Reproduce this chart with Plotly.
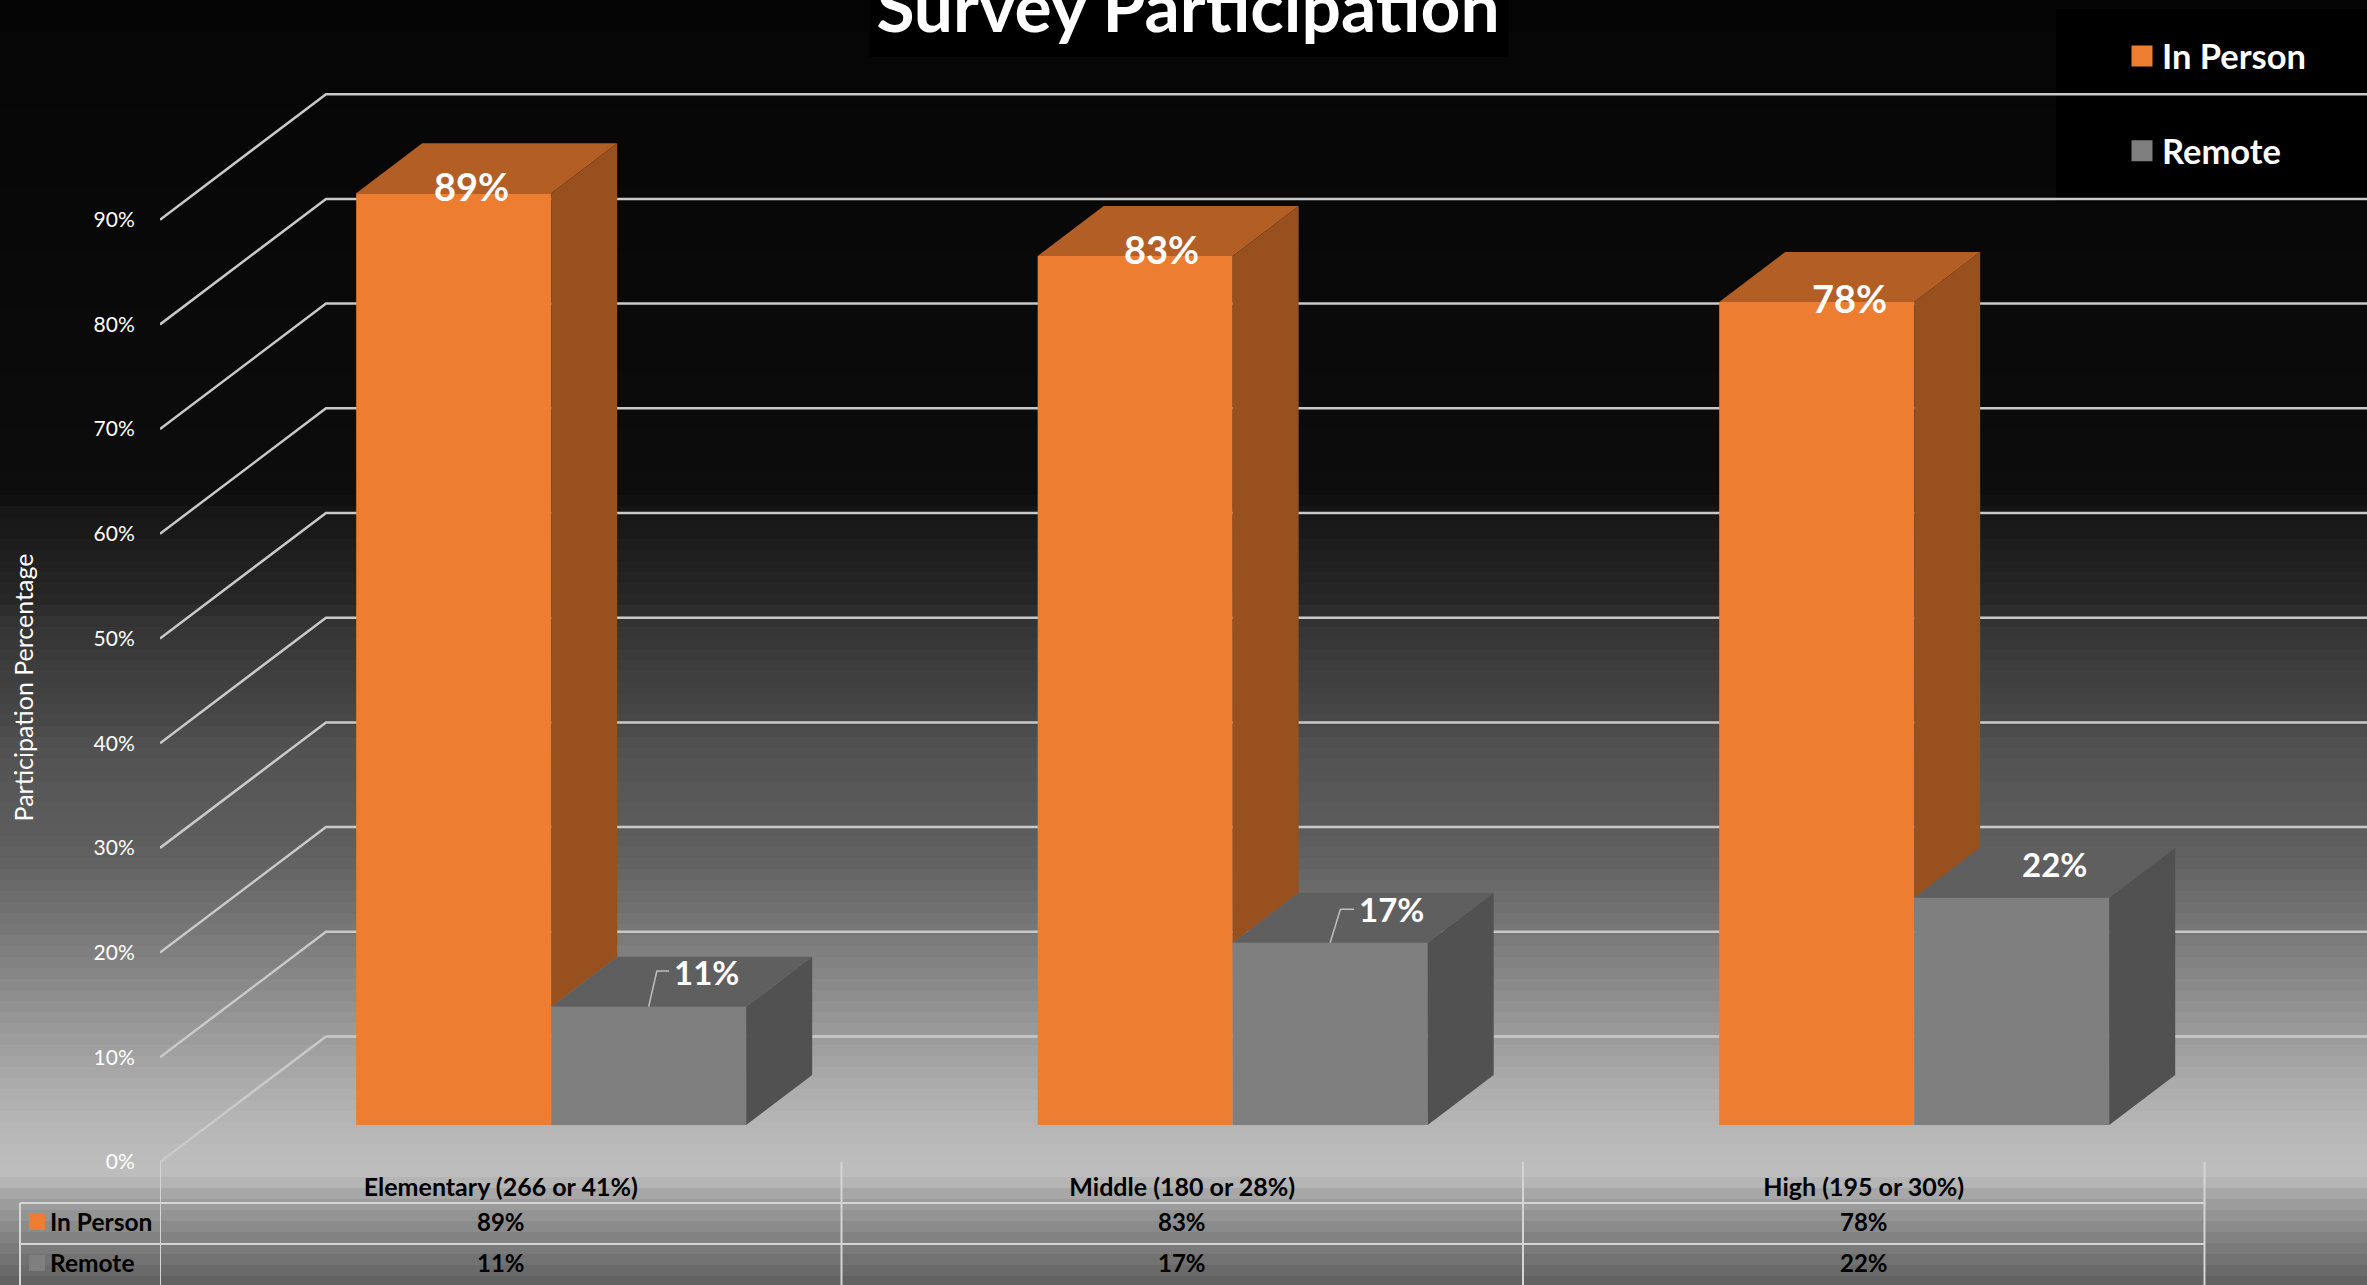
import numpy as np
import plotly.graph_objects as go

# ---- data ----
categories = ["Elementary (266 or 41%)", "Middle (180 or 28%)", "High (195 or 30%)"]
in_person = [89, 83, 78.6]       # bar heights
remote = [11.3, 17.4, 21.7]
in_person_labels = ["89%", "83%", "78%"]
remote_labels = ["11%", "17%", "22%"]
y_ticks = [0, 10, 20, 30, 40, 50, 60, 70, 80, 90]
y_tick_labels = ["0%", "10%", "20%", "30%", "40%", "50%", "60%", "70%", "80%", "90%"]
series_names = ["In Person", "Remote"]

# ---- page / axis geometry ----
W, H = 2367, 1285
AX_L, AX_B = 160, 1162          # px position of the 0% front corner
CAT_PX, PCT_PX = 681.5, 10.47   # px per category, px per percent
PX = lambda p: p / W
PY = lambda p: 1 - p / H
VAL = lambda p: (AX_B - p) / PCT_PX
TOP_PX = 90

# depth offsets in data units
WALL_DX, WALL_DY = 166 / CAT_PX, 125.5 / PCT_PX
BAR_DX, BAR_DY = 66 / CAT_PX, 50 / PCT_PX
BAR_BASE = (AX_B - 1125) / PCT_PX
BAR_W = 195 / CAT_PX
GROUP_C = 0.574

ORANGE, ORANGE_TOP, ORANGE_SIDE = "#ED7D31", "#B25E24", "#98501E"
GREY, GREY_TOP, GREY_SIDE = "#7F7F7F", "#5F5F5F", "#515151"
LINE = "#C9C9C9"
FONT = "Lato"

# ---- background bands ----
bg_y = [0, 220, 400, 495, 510, 600, 620, 720, 750, 850, 900, 950, 1000, 1050, 1100, 1150, 1178, 1185, 1200, 1240, 1285]
bg_v = [5, 8, 11, 13, 22, 39, 51, 72, 82, 95, 110, 126, 143, 160, 176, 187, 189, 176, 160, 128, 96]
shapes = []
step = 11
for top in range(0, H, step):
    c = int(round(np.interp(top + step / 2, bg_y, bg_v)))
    shapes.append(dict(type="rect", xref="paper", yref="paper", x0=0, x1=1,
                       y0=PY(top), y1=PY(top + step + 1), layer="below",
                       fillcolor=f"rgb({c},{c},{c})", line_width=0))

# ---- wall gridlines (from the value axis, drawn behind the bars) ----
x_max = (W - AX_L) / CAT_PX
for t in y_ticks:
    shapes.append(dict(type="path", xref="x", yref="y", layer="below",
                       path=f"M 0,{t} L {WALL_DX},{t + WALL_DY} L {x_max},{t + WALL_DY}",
                       line=dict(color=LINE, width=2.5)))

# ---- data table rules ----
for i in range(len(categories) + 1):
    shapes.append(dict(type="line", xref="x", yref="paper", layer="below",
                       x0=i, x1=i, y0=PY(AX_B), y1=0, line=dict(color="#D4D4D4", width=2)))
for yy in (1203, 1244):
    shapes.append(dict(type="line", xref="paper", yref="paper", layer="below",
                       x0=PX(20), x1=PX(AX_L + 3 * CAT_PX), y0=PY(yy), y1=PY(yy),
                       line=dict(color="#D4D4D4", width=2)))
shapes.append(dict(type="line", xref="paper", yref="paper", layer="below",
                   x0=PX(20), x1=PX(20), y0=PY(1203), y1=0, line=dict(color="#D4D4D4", width=2)))
# table keys
for (yy, col) in ((1222, ORANGE), (1263, GREY)):
    shapes.append(dict(type="rect", xref="paper", yref="paper", layer="below",
                       x0=PX(29), x1=PX(45), y0=PY(yy - 8), y1=PY(yy + 8),
                       fillcolor=col, line_width=0))
# title box and legend box
shapes.append(dict(type="rect", xref="paper", yref="paper", layer="below",
                   x0=PX(870), x1=PX(1509), y0=PY(0), y1=PY(57), fillcolor="#000", line_width=0))
shapes.append(dict(type="rect", xref="paper", yref="paper", layer="below",
                   x0=PX(2056), x1=1, y0=PY(9), y1=PY(202), fillcolor="#000", line_width=0))

fig = go.Figure()

# ---- front faces ----
xs_ip = [i + GROUP_C - BAR_W / 2 for i in range(3)]
xs_re = [i + GROUP_C + BAR_W / 2 for i in range(3)]
fig.add_trace(go.Bar(x=xs_ip, y=in_person, base=BAR_BASE, width=BAR_W, marker_color=ORANGE,
                     marker_line_width=0, name=series_names[0], showlegend=False))
fig.add_trace(go.Bar(x=xs_re, y=remote, base=BAR_BASE, width=BAR_W, marker_color=GREY,
                     marker_line_width=0, name=series_names[1], showlegend=False))


def face(px, py, col):
    fig.add_trace(go.Scatter(x=px, y=py, mode="lines", fill="toself", fillcolor=col,
                             line=dict(width=0, color=col), hoverinfo="skip", showlegend=False))


# ---- orange side + top, then grey side + top ----
for i in range(3):
    xl, xr = xs_ip[i] - BAR_W / 2, xs_ip[i] + BAR_W / 2
    top = BAR_BASE + in_person[i]
    low = BAR_BASE + remote[i]
    face([xr, xr + BAR_DX, xr + BAR_DX, xr, xr], [low, low + BAR_DY, top + BAR_DY, top, low], ORANGE_SIDE)
    face([xl, xr, xr + BAR_DX, xl + BAR_DX, xl], [top, top, top + BAR_DY, top + BAR_DY, top], ORANGE_TOP)
for i in range(3):
    xl, xr = xs_re[i] - BAR_W / 2, xs_re[i] + BAR_W / 2
    top = BAR_BASE + remote[i]
    face([xr, xr + BAR_DX, xr + BAR_DX, xr, xr],
         [BAR_BASE, BAR_BASE + BAR_DY, top + BAR_DY, top, BAR_BASE], GREY_SIDE)
    face([xl, xr, xr + BAR_DX, xl + BAR_DX, xl], [top, top, top + BAR_DY, top + BAR_DY, top], GREY_TOP)

# ---- leader lines for the two small labels ----
for i, (dx1, dx2, dy1) in enumerate(((0.012, 0.03, 3.4), (0.015, 0.035, 3.2))):
    xc = xs_re[i]
    v = BAR_BASE + remote[i]
    fig.add_trace(go.Scatter(x=[xc, xc + dx1, xc + dx2], y=[v, v + dy1, v + dy1], mode="lines",
                             line=dict(color="#BFBFBF", width=1.5), hoverinfo="skip", showlegend=False))

# ---- legend entries ----
for name, col in zip(series_names, (ORANGE, GREY)):
    fig.add_trace(go.Scatter(x=[None], y=[None], mode="markers", name=name, legendgroup=name,
                             marker=dict(symbol="square", size=16, color=col, line=dict(width=5, color=col))))

# ---- annotations ----
ann = []
ip_dx = [0.026, 0.038, 0.048]
ip_dy = [0.7, 0.7, 0.4]
for i, v in enumerate(in_person):
    ann.append(dict(x=xs_ip[i] + ip_dx[i], y=BAR_BASE + v + ip_dy[i], xref="x", yref="y", showarrow=False,
                    xanchor="center", yanchor="middle",
                    text=f"<b>{in_person_labels[i]}</b>", font=dict(family=FONT, size=38, color="white")))
re_dy = [3.3, 3.2, 3.2]
re_dx = [(706 - 648.5) / CAT_PX, (1392 - 1330.5) / CAT_PX, (2055 - 2012) / CAT_PX]
for i, v in enumerate(remote):
    ann.append(dict(x=xs_re[i] + re_dx[i], y=BAR_BASE + v + re_dy[i], xref="x", yref="y", showarrow=False,
                    xanchor="center", yanchor="middle",
                    text=f"<b>{remote_labels[i]}</b>", font=dict(family=FONT, size=33, color="white")))
# table values and row keys
for row_y, labels, name in ((1221, in_person_labels, series_names[0]), (1262, remote_labels, series_names[1])):
    for i, lab in enumerate(labels):
        ann.append(dict(x=i + 0.5, y=PY(row_y), xref="x", yref="paper", showarrow=False,
                        xanchor="center", yanchor="middle",
                        text=f"<b>{lab}</b>", font=dict(family=FONT, size=24, color="#000")))
    ann.append(dict(x=PX(48), y=PY(row_y), xref="paper", yref="paper", xanchor="left", yanchor="middle",
                    showarrow=False, text=f"<b>{name}</b>", font=dict(family=FONT, size=24.5, color="#000")))

fig.update_layout(
    width=W, height=H, margin=dict(l=0, r=0, t=0, b=0), autosize=False,
    paper_bgcolor="#000", plot_bgcolor="rgba(0,0,0,0)", barmode="overlay",
    title=dict(text="<b>Survey Participation</b>", x=1188 / W, xanchor="center", y=PY(32), yanchor="bottom",
               font=dict(family=FONT, size=69.5, color="white"), pad=dict(t=0, b=0)),
    xaxis=dict(domain=[AX_L / W, 1], range=[0, x_max], anchor="free", position=PY(AX_B),
               tickmode="array", tickvals=[i + 0.5 for i in range(3)], ticktext=[f"<b>{c}</b>" for c in categories],
               showgrid=False, zeroline=False, showline=False, ticks="outside", ticklen=3,
               tickcolor="rgba(0,0,0,0)", tickfont=dict(family=FONT, size=25, color="#000")),
    yaxis=dict(domain=[0, PY(TOP_PX)], range=[VAL(H), VAL(TOP_PX)], anchor="x",
               tickmode="array", tickvals=y_ticks, ticktext=y_tick_labels, showgrid=False, zeroline=False,
               showline=False, ticks="outside", ticklen=20, tickcolor="rgba(0,0,0,0)",
               tickfont=dict(family=FONT, size=21, color="white"),
               title=dict(text="Participation Percentage", standoff=52,
                          font=dict(family=FONT, size=25, color="white"))),
    legend=dict(x=2122 / W, y=PY(27), xanchor="left", yanchor="top", bgcolor="rgba(0,0,0,0)",
                tracegroupgap=47, font=dict(family=FONT, size=34.5, color="white", weight=700),
                itemclick=False, itemdoubleclick=False),
    shapes=shapes, annotations=ann, showlegend=True,
)
fig.write_html("out.html", config={"displayModeBar": False},
               post_script="document.body.style.margin='0';document.body.style.overflow='hidden';")
